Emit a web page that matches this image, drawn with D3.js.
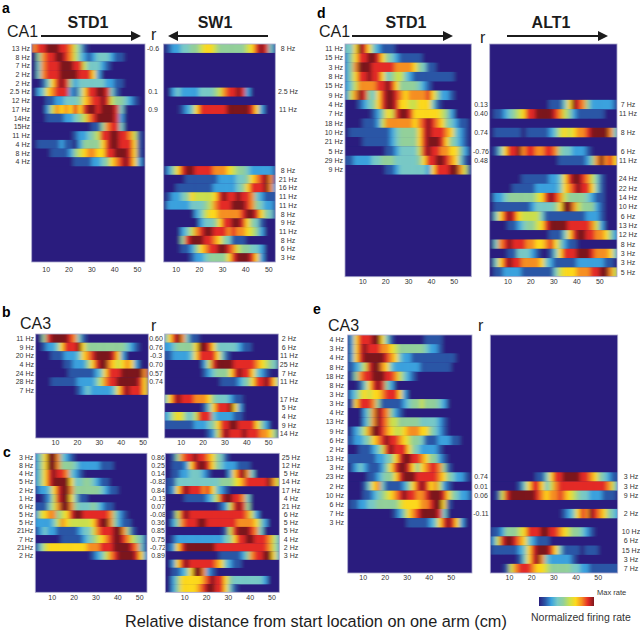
<!DOCTYPE html>
<html lang="en">
<head>
  <meta charset="UTF-8">
  <title>CA1 CA3 firing rate maps</title>
  <script src="https://d3js.org/d3.v7.min.js"></script>
  <style>
    body { margin: 0; background: white; }
    text { font-family: "Liberation Sans", Arial, sans-serif; fill: #1c1c1c; }
    .small { font-size: 7px; fill: #333; }
    .tick text { font-size: 7px; fill: #333; font-family: "Liberation Sans", Arial, sans-serif; }
    .letter { font-size: 14px; font-weight: bold; fill: black; }
    .head { font-size: 16px; font-weight: bold; }
    .area { font-size: 16px; }
  </style>
</head>
<body>
<svg id="svg" width="640" height="633"></svg>

<script>
// rate level of each 2 cm bin, one string per row: 0 = no firing ... 9 = max rate
const aStdRates = ["7889998875310","04788998753212333211","03788899988533321","037888999988862","001368984233333322110","0236788821368899831","00011223334678898544321","00025767686899899983","00011112234578999982","00000000000001147883","000000000122345889988751","011111211024444689988861","000011112456776688999861","000000000111122346789862"];
const aStdHz = ["13 Hz","8 Hz","7 Hz","2 Hz","2 Hz","2.5 Hz","12 Hz","17 Hz","14Hz","15Hz","11 Hz","4 Hz","8 Hz","4 Hz"];
const aSwRates = ["0122334456654444445689831","","","","","0023222233345788982","","0000123688888899999862","","","","","","","0246899888877765443222221","0000011111112222334678971","0001111111122222346888972","0122346555568988988732111","0222223334578889998743221","0000000235667777789986431","0000000023346889986431","0000235789988878776542","000048999887643111","0000112467889987544332","0000001223444468999862"];
const aSwHz = ["8 Hz","","","","","2.5 Hz","","11 Hz","","","","","","","8 Hz","21 Hz","16 Hz","11 Hz","11 Hz","8 Hz","9 Hz","11 Hz","8 Hz","6 Hz","3 Hz"];
const aR = ["-0.6","","","","","0.1","","0.9"];

const bStdRates = ["004899998731","001223688896444444444321","000011122236789999862","000000011222468997656762","00000000111111236888999997","00001111112222357889999986","00000000001232222236898886"];
const bStdHz = ["11 Hz","9 Hz","20 Hz","4 Hz","24 Hz","28 Hz","7 Hz"];
const bSecondRates = ["36897311","22344446998633333211","112222368888631","00000000025899998888876543","000000000123444689886321","000000000000011112346889863","","368988877764333211","000000000136888962","235653358883222211","111111122234688998888642","00000000001258988898887764"];
const bSecondHz = ["2 Hz","6 Hz","11 Hz","25 Hz","7 Hz","11 Hz","","17 Hz","5 Hz","4 Hz","9 Hz","14 Hz"];
const bR = ["0.60","0.76","-0.3","0.70","0.57","0.74"];

const cStdRates = ["246997321","246997444322222111","24689887321","24689999633443211","1223689974444443211","001258996311","111357997433343211","256774568998888887421","2222357655555689974211","12322111112335788899741","00000011111234567899875431","13566666666677788899998731","00000000000001235789999862"];
const cStdHz = ["3 Hz","8 Hz","4 Hz","5 Hz","2 Hz","1 Hz","6 Hz","5 Hz","5 Hz","21Hz","7 Hz","21Hz","2 Hz"];
const cSecondRates = ["01478898876431","0111268998643222111","01122333210000268973","11333333333344456788888975","12689888786321","0000111112358998873","0000000000001258984","015898888888888888752","02478889988888887777642","0000000000000158999873","01222222222223468899888753","12689999999888888888888753","00000000000011111247889963","02689888888763211","01123699721","02466666789886433333332","0246666789988631"];
const cSecondHz = ["25 Hz","12 Hz","5 Hz","14 Hz","17 Hz","4 Hz","21 Hz","6 Hz","5 Hz","5 Hz","4 Hz","2 Hz","3 Hz"];
const cR = ["0.86","0.25","0.14","-0.82","0.84","-0.13","0.07","-0.08","0.36","0.85","0.75","-0.72","0.89"];

const dStdRates = ["33698632111","24688998643211111","24799988888777764311","246889886345532111111111","2357777889864444321","257984368998767777864221","000123468998665566631","000000124658998666666542","000011125777777678987643211","011111111123444468988876321","000011111123444468999864321","000000000112333358988776642","112222334443333346889987631","0000000001123333332688899751"];
const dStdHz = ["11 Hz","15 Hz","3 Hz","8 Hz","15 Hz","9 Hz","4 Hz","7 Hz","18 Hz","10 Hz","21 Hz","5 Hz","29 Hz","9 Hz"];
const dAltRates = ["","","","","","","0000000000000111369874222221","0112345688999987542111111","","0111111011111235656778999973","","0136889788778874332221","0000000000000001111112479786","","0000000111111223689987531","0000011111222223678988631","0223444444568987544443211","0111111112333346997544421","0368986555531111111112221","0000112344568999988888752","0000000000000111368998877642","0378988877667864211","0000113332100136888999877763","036898877776321111122222211","0112222111111135666777889975"];
const dAltHz = ["","","","","","","7 Hz","11 Hz","","8 Hz","","6 Hz","11 Hz","","24 Hz","22 Hz","14 Hz","10 Hz","6 Hz","13 Hz","12 Hz","8 Hz","3 Hz","3 Hz","5 Hz"];
const dR = ["","","","","","","0.13","0.40","","0.74","","-0.76","0.48"];

const eStdRates = ["0268889963100000001111","0268988877654444443221","0268999998763221111111111","112358997632222221111111","0147889998875321","00013689842","02356566788862","01688874111112344544432","0000247987421","00002479875544444333321","01235799876556777664321","11223467898876544311122211","0001112358988864322221","11111112234689988764421","012321112468998646788741","0000011234468999888887643221","000013673111124689867521","00001123456789887789998643221","011223344444566667789961","00000000000124678999983","000000000000001111123689862"];
const eStdHz = ["4 Hz","3 Hz","4 Hz","8 Hz","18 Hz","8 Hz","3 Hz","3 Hz","4 Hz","13 Hz","9 Hz","6 Hz","2 Hz","13 Hz","3 Hz","23 Hz","2 Hz","10 Hz","6 Hz","7 Hz","3 Hz"];
const eAltRates = ["","","","","","","","","","","","","","","","00000000001136889999887643211","00000013688635788888888888752","0158999999876778765433222111","","00000000000000001236879876432","","11244456888998876544321","2589987632111","111111236899986311110111","0000001368973222221","00015788876654444433221111111"];
const eAltHz = ["","","","","","","","","","","","","","","","3 Hz","3 Hz","9 Hz","","2 Hz","","10 Hz","6 Hz","15 Hz","3 Hz","7 Hz"];
const eR = ["","","","","","","","","","","","","","","","0.74","0.01","0.06","","-0.11"];

const xTicks = [10, 20, 30, 40, 50];
const levels = [0, 1, 2, 3, 4, 5, 6, 7, 8, 9];
const levelColors = ["#2a1f7e", "#2b56a6", "#3aa2de", "#78c9c6", "#93d09a", "#cbe04e", "#fdd91c", "#f68f22", "#e42a26", "#7c181d"];
const binWidth = 2;

const svg = d3.select("#svg");
const defs = svg.append("defs");
const rateColor = d3.scaleLinear().domain(levels).range(levelColors);

defs.append("filter").attr("id", "smear")
  .attr("filterUnits", "userSpaceOnUse")
  .attr("x", 0).attr("y", 0).attr("width", 640).attr("height", 633)
  .append("feGaussianBlur").attr("stdDeviation", "2 0.5");

// one heat map: rows top to bottom, bins left to right
function drawPanel(p) {
  const x = d3.scaleLinear().domain(p.domain).range([p.left, p.right]);
  const y = d3.scaleBand().domain(d3.range(p.nRows)).range([p.top, p.bottom]);
  const id = "clip" + p.left + "_" + p.top;

  defs.append("clipPath").attr("id", id).append("rect")
    .attr("x", p.left).attr("y", p.top)
    .attr("width", p.right - p.left).attr("height", p.bottom - p.top);

  const cells = [];
  p.rates.forEach((s, r) => {
    s.split("").forEach((c, i) => {
      cells.push({row: r, cm: p.binStart + i * binWidth, level: +c});
    });
  });

  const g = svg.append("g").attr("clip-path", "url(#" + id + ")")
    .append("g").attr("filter", "url(#smear)");
  g.append("rect")
    .attr("x", p.left - 12).attr("y", p.top - 6)
    .attr("width", p.right - p.left + 24).attr("height", p.bottom - p.top + 12)
    .attr("fill", rateColor(0));
  g.selectAll("rect.cell").data(cells).join("rect")
    .attr("class", "cell")
    .attr("x", d => x(d.cm))
    .attr("y", d => y(d.row))
    .attr("width", x(binWidth) - x(0) + 0.5)
    .attr("height", y.bandwidth() + 0.2)
    .attr("fill", d => rateColor(d.level));

  svg.append("rect")
    .attr("x", p.left).attr("y", p.top)
    .attr("width", p.right - p.left).attr("height", p.bottom - p.top)
    .attr("fill", "none").attr("stroke", "#aaa8cc").attr("stroke-width", 0.8);

  const axis = svg.append("g")
    .attr("transform", "translate(0," + p.bottom + ")")
    .call(d3.axisBottom(x).tickValues(xTicks).tickSize(0).tickPadding(p.tickPad));
  axis.select(".domain").remove();

  svg.selectAll(null).data(p.hz).join("text")
    .attr("class", "small")
    .attr("x", p.hzX)
    .attr("y", (d, i) => y(i) + y.bandwidth() / 2 + 2.5)
    .attr("text-anchor", p.hzAnchor)
    .text(d => d);

  if (p.r) {
    svg.selectAll(null).data(p.r).join("text")
      .attr("class", "small")
      .attr("x", p.rX)
      .attr("y", (d, i) => y(i) + y.bandwidth() / 2 + 2.5)
      .attr("text-anchor", "middle")
      .text(d => d);
  }
}

drawPanel({rates: aStdRates, hz: aStdHz, nRows: 25, left: 31.7, right: 145, top: 44, bottom: 262, domain: [3.9, 53.5], binStart: 4, tickPad: 5, hzX: 30, hzAnchor: "end", r: aR, rX: 153});
drawPanel({rates: aSwRates, hz: aSwHz, nRows: 25, left: 163.7, right: 275.3, top: 44, bottom: 262, domain: [4.8, 53], binStart: 4, tickPad: 5, hzX: 288, hzAnchor: "middle"});
drawPanel({rates: dStdRates, hz: dStdHz, nRows: 25, left: 345, right: 471.3, top: 44, bottom: 276.7, domain: [2.4, 57.7], binStart: 2, tickPad: 2.5, hzX: 343, hzAnchor: "end", r: dR, rX: 481});
drawPanel({rates: dAltRates, hz: dAltHz, nRows: 25, left: 489.7, right: 617, top: 44, bottom: 276.7, domain: [2.3, 57.7], binStart: 2, tickPad: 2.5, hzX: 628, hzAnchor: "middle"});
drawPanel({rates: bStdRates, hz: bStdHz, nRows: 12, left: 35.7, right: 148.3, top: 334, bottom: 438, domain: [1.2, 52.6], binStart: 0, tickPad: 2, hzX: 34, hzAnchor: "end", r: bR, rX: 156});
drawPanel({rates: bSecondRates, hz: bSecondHz, nRows: 12, left: 164.7, right: 278.3, top: 334, bottom: 438, domain: [2.7, 54.6], binStart: 2, tickPad: 2, hzX: 289, hzAnchor: "middle"});
drawPanel({rates: cStdRates, hz: cStdHz, nRows: 17, left: 35.3, right: 147, top: 453.3, bottom: 592.3, domain: [2.5, 53.6], binStart: 2, tickPad: 3, hzX: 33.3, hzAnchor: "end", r: cR, rX: 158});
drawPanel({rates: cSecondRates, hz: cSecondHz, nRows: 17, left: 165.3, right: 279.3, top: 453.3, bottom: 592.3, domain: [1.3, 53.6], binStart: 2, tickPad: 3, hzX: 291, hzAnchor: "middle"});
drawPanel({rates: eStdRates, hz: eStdHz, nRows: 26, left: 347.7, right: 472, top: 335, bottom: 573, domain: [3.2, 59.7], binStart: 2, tickPad: 2, hzX: 344, hzAnchor: "end", r: eR, rX: 481});
drawPanel({rates: eAltRates, hz: eAltHz, nRows: 26, left: 490.3, right: 617.7, top: 335, bottom: 573, domain: [1.6, 59], binStart: 2, tickPad: 2, hzX: 631, hzAnchor: "middle"});

// arrows above the top panels
defs.append("marker").attr("id", "head")
  .attr("viewBox", "0 0 10 10").attr("refX", 8).attr("refY", 5)
  .attr("markerWidth", 5).attr("markerHeight", 5).attr("orient", "auto-start-reverse")
  .append("path").attr("d", "M0,0L10,5L0,10Z").attr("fill", "#1c1c1c");

const arrows = [[41, 139], [268, 170], [352, 451], [507, 606]];
svg.selectAll(null).data(arrows).join("line")
  .attr("x1", d => d[0]).attr("x2", d => d[1])
  .attr("y1", 36).attr("y2", 36)
  .attr("stroke", "#1c1c1c").attr("stroke-width", 2)
  .attr("marker-end", "url(#head)");

const letters = [["a", 2, 13], ["d", 317, 18], ["b", 2, 317], ["c", 3, 457], ["e", 313, 314]];
svg.selectAll(null).data(letters).join("text")
  .attr("class", "letter")
  .attr("x", d => d[1]).attr("y", d => d[2])
  .text(d => d[0]);

const heads = [["STD1", 88, 28], ["SW1", 215, 28], ["STD1", 406, 28], ["ALT1", 551, 28]];
svg.selectAll(null).data(heads).join("text")
  .attr("class", "head")
  .attr("text-anchor", "middle")
  .attr("x", d => d[1]).attr("y", d => d[2])
  .text(d => d[0]);

const areas = [["CA1", 7, 37], ["CA1", 319, 37], ["CA3", 20, 329], ["CA3", 328, 331],
  ["r", 151, 40], ["r", 480, 43], ["r", 151, 331], ["r", 478, 331]];
svg.selectAll(null).data(areas).join("text")
  .attr("class", "area")
  .attr("x", d => d[1]).attr("y", d => d[2])
  .text(d => d[0]);

svg.append("text")
  .attr("x", 125).attr("y", 627)
  .style("font-size", "16.3px")
  .text("Relative distance from start location on one arm (cm)");

// colour bar
const barX = d3.scaleLinear().domain([0, 9]).range([539, 594]);
const barGrad = defs.append("linearGradient").attr("id", "bar");
barGrad.selectAll("stop").data(levels).join("stop")
  .attr("offset", d => (d / 9 * 100) + "%")
  .attr("stop-color", d => rateColor(d));
svg.append("rect")
  .attr("x", barX(0)).attr("y", 597)
  .attr("width", barX(9) - barX(0)).attr("height", 9)
  .attr("fill", "url(#bar)");
svg.append("text").attr("class", "small")
  .attr("x", 597).attr("y", 595).style("font-size", "7.5px").text("Max rate");
svg.append("text")
  .attr("x", 531).attr("y", 621).style("font-size", "10.5px").style("fill", "#333")
  .text("Normalized firing rate");
</script>
</body>
</html>
